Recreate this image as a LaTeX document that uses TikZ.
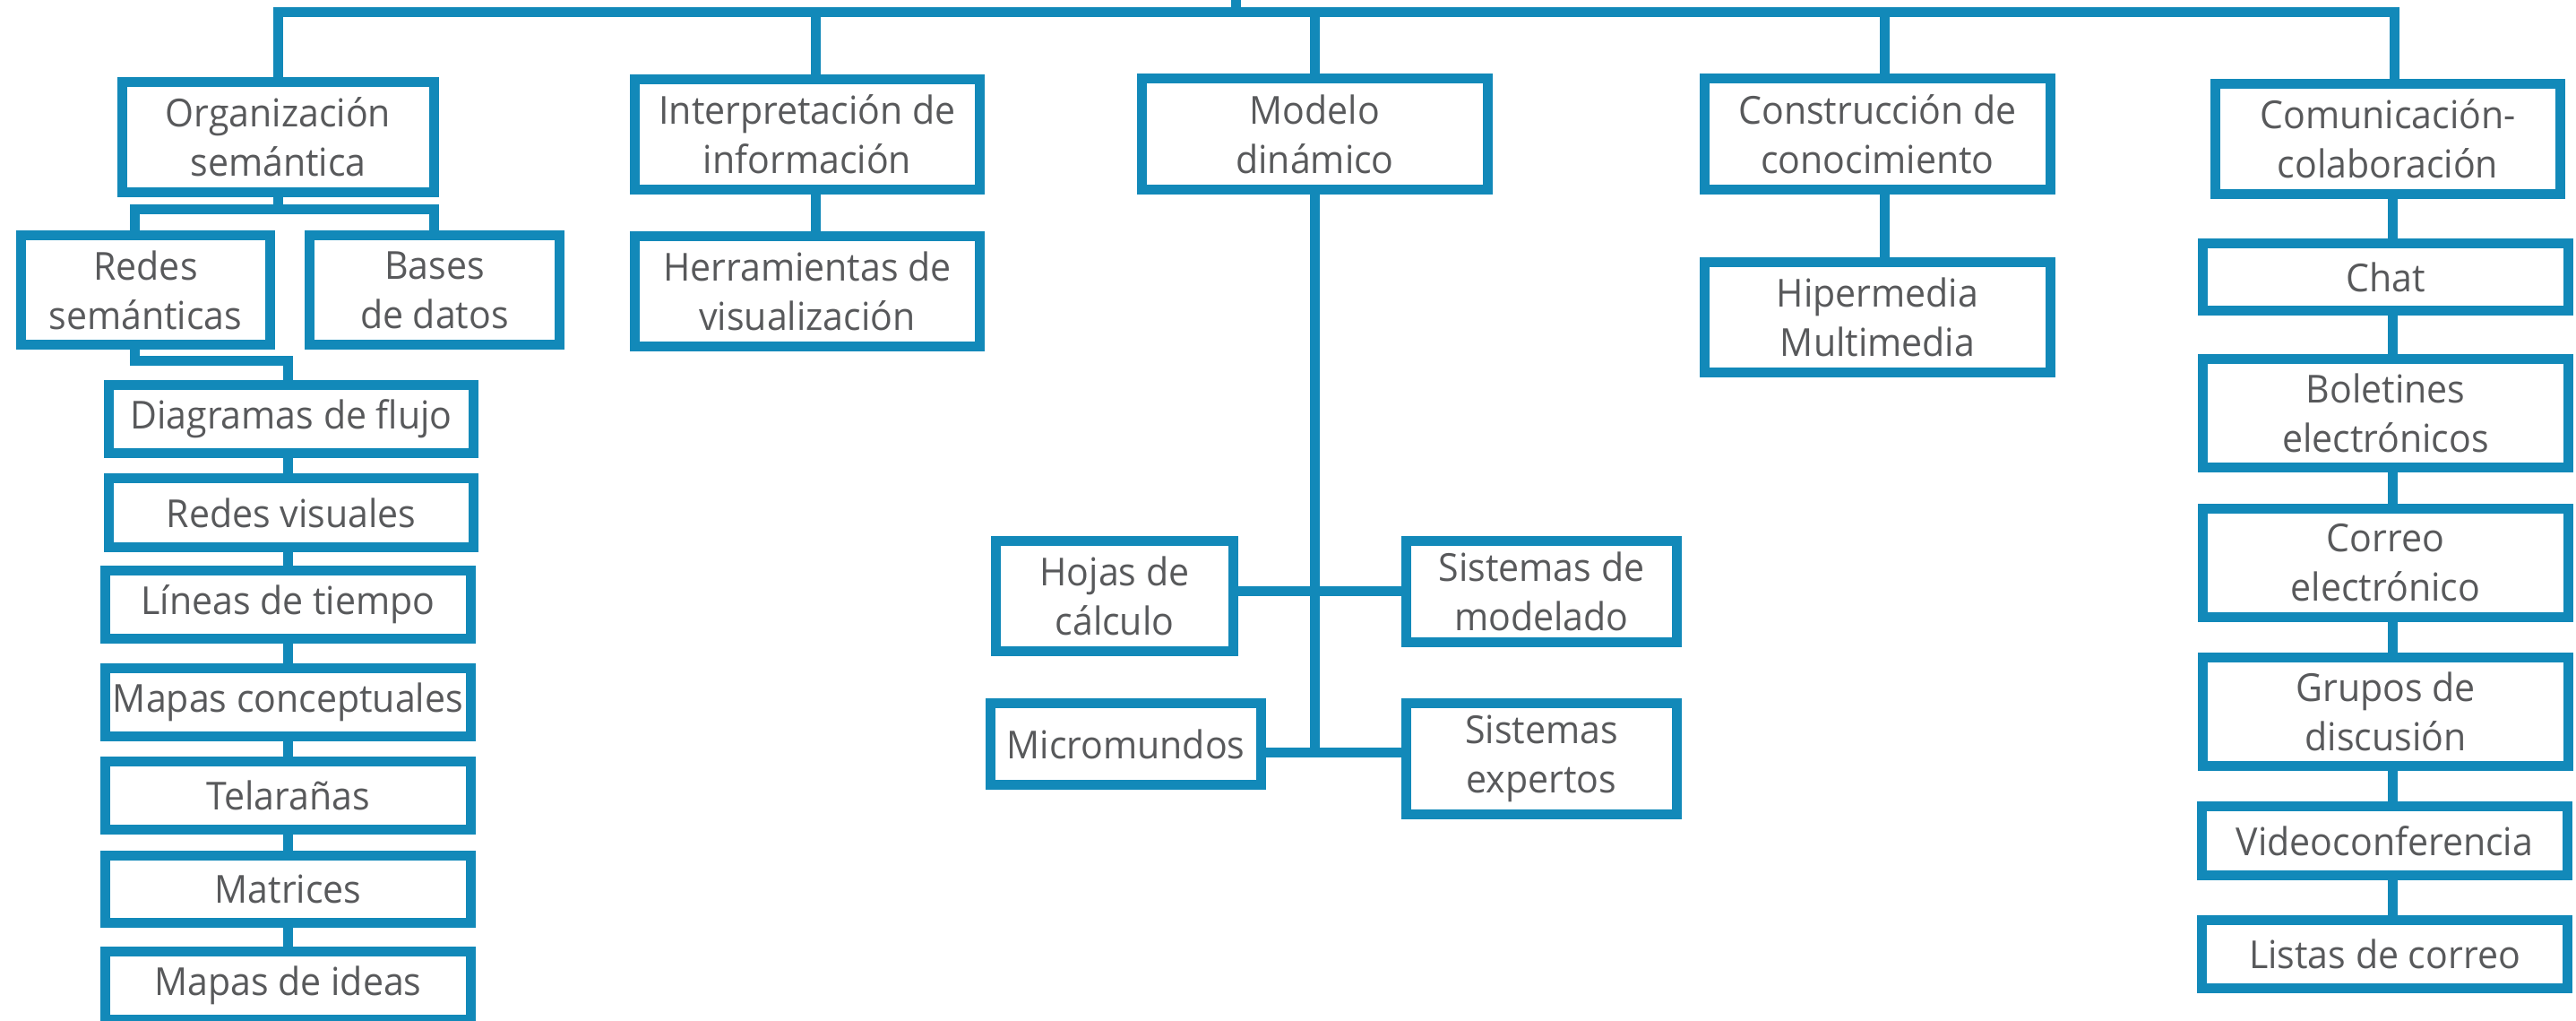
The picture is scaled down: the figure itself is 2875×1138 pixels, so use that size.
\documentclass[tikz,border=0pt]{standalone}
\usepackage{fontspec}
\setmainfont{Open Sans}[FakeStretch=0.955]
\definecolor{tblue}{RGB}{18,137,185}
\definecolor{tgray}{RGB}{88,89,91}
\tikzset{
  box/.style={draw=tblue, line width=11pt, fill=white, rectangle, inner sep=0pt, outer sep=0pt,
    align=center, text=tgray, font=\fontsize{43}{55}\selectfont},
  link/.style={draw=tblue, line width=11pt, line join=miter, line cap=butt}
}
% place a box from its outer corners (x1,y1) and (x2,y2)
\newcommand\tbox[6]{%
  \pgfmathsetmacro\bw{#4-#2-11}\pgfmathsetmacro\bh{#5-#3-11}%
  \node[box, minimum width=\bw pt, minimum height=\bh pt] (#1) at ({(#2+#4)/2},{(#3+#5)/2}) {#6};}
\begin{document}
\begin{tikzpicture}[x=1pt, y=-1pt]
\useasboundingbox (0,0) rectangle (2875,1138);
\clip (0,0) rectangle (2875,1138);

% connectors first, boxes on top
\coordinate (rootup) at (1379,-5);
\coordinate (bar) at (1379,13.8);
\coordinate (ojoin) at (310.5,233);
\coordinate (rturn) at (321.75,402);
\coordinate (lc) at (321.75,0);
\coordinate (rc) at (2670,0);
\coordinate (mbot) at (1467.5,839.5);
\coordinate (hrow) at (0,659);
\coordinate (mrow) at (0,839.5);

% top level
\tbox{org}{131}{86}{490}{220}{Organización\\semántica}
\tbox{interp}{703}{83}{1099}{217}{Interpretación de\\información}
\tbox{modelo}{1269}{82}{1666}{217}{Modelo\\dinámico}
\tbox{constr}{1897}{82}{2294}{217}{Construcción de\\conocimiento}
\tbox{com}{2467}{88}{2863}{222}{Comunicación-\\colaboración}

% second level
\tbox{redes}{18}{257}{307}{390}{Redes\\semánticas}
\tbox{bases}{340}{257}{630}{390}{Bases\\de datos}
\tbox{herr}{703}{258}{1099}{392}{Herramientas de\\visualización}
\tbox{hiper}{1897}{287}{2294}{421}{Hipermedia\\Multimedia}

% semantic networks chain
\tbox{diag}{116}{424}{534}{511}{Diagramas de flujo}
\tbox{rvis}{116}{528}{534}{616}{Redes visuales}
\tbox{lineas}{112}{631}{531}{718}{Líneas de tiempo}
\tbox{mapasc}{112}{740}{531}{827}{Mapas conceptuales}
\tbox{tela}{112}{844}{531}{931}{Telarañas}
\tbox{matr}{112}{949}{531}{1035}{Matrices}
\tbox{mapasi}{112}{1056}{531}{1143}{Mapas de ideas}

% dynamic model tools
\tbox{hojas}{1106}{598}{1382}{732}{Hojas de\\cálculo}
\tbox{sismod}{1564}{598}{1877}{722}{Sistemas de\\modelado}
\tbox{micro}{1100}{779}{1413}{881}{Micromundos}
\tbox{sisexp}{1564}{779}{1877}{914}{Sistemas\\expertos}

% communication chain
\tbox{chat}{2453}{266}{2872}{352}{Chat}
\tbox{bol}{2453}{395}{2872}{527}{Boletines\\electrónicos}
\tbox{correo}{2453}{562}{2872}{694}{Correo\\electrónico}
\tbox{grupos}{2453}{728}{2872}{860}{Grupos de\\discusión}
\tbox{video}{2452}{894}{2871}{982}{Videoconferencia}
\tbox{listas}{2452}{1021}{2871}{1108}{Listas de correo}

% main bar
\draw[link] (rootup) -- (bar);
\draw[link] (org.north) |- (bar) -| ([xshift=7pt]com.north);
\draw[link] ([xshift=9.5pt]interp.north) -- ([xshift=9.5pt]interp.north |- bar);
\draw[link] (modelo.north) -- (modelo.north |- bar);
\draw[link] ([xshift=7.5pt]constr.north) -- ([xshift=7.5pt]constr.north |- bar);

% organizacion branch
\draw[link] (org.south) -- (ojoin);
\draw[link] ([xshift=-11.7pt]redes.north) |- (ojoin) -| ([xshift=-1pt]bases.north);
\draw[link] ([xshift=-11.7pt]redes.south) |- (rturn) -- (rturn |- diag.north);
\foreach \a/\b in {diag/rvis, rvis/lineas, lineas/mapasc, mapasc/tela, tela/matr, matr/mapasi}
  \draw[link] (\a.south -| lc) -- (\b.north -| lc);

% interpretacion and construccion
\draw[link] ([xshift=9.5pt]interp.south) -- ([xshift=9.5pt]interp.south |- herr.north);
\draw[link] ([xshift=7.5pt]constr.south) -- ([xshift=7.5pt]constr.south |- hiper.north);

% modelo dinamico
\draw[link] (modelo.south) -- (mbot);
\draw[link] (hojas.east |- hrow) -- (sismod.west |- hrow);
\draw[link] (micro.east |- mrow) -- (sisexp.west |- mrow);

% comunicacion chain
\foreach \a/\b in {com/chat, chat/bol, bol/correo, correo/grupos, grupos/video, video/listas}
  \draw[link] (\a.south -| rc) -- (\b.north -| rc);
\end{tikzpicture}
\end{document}
